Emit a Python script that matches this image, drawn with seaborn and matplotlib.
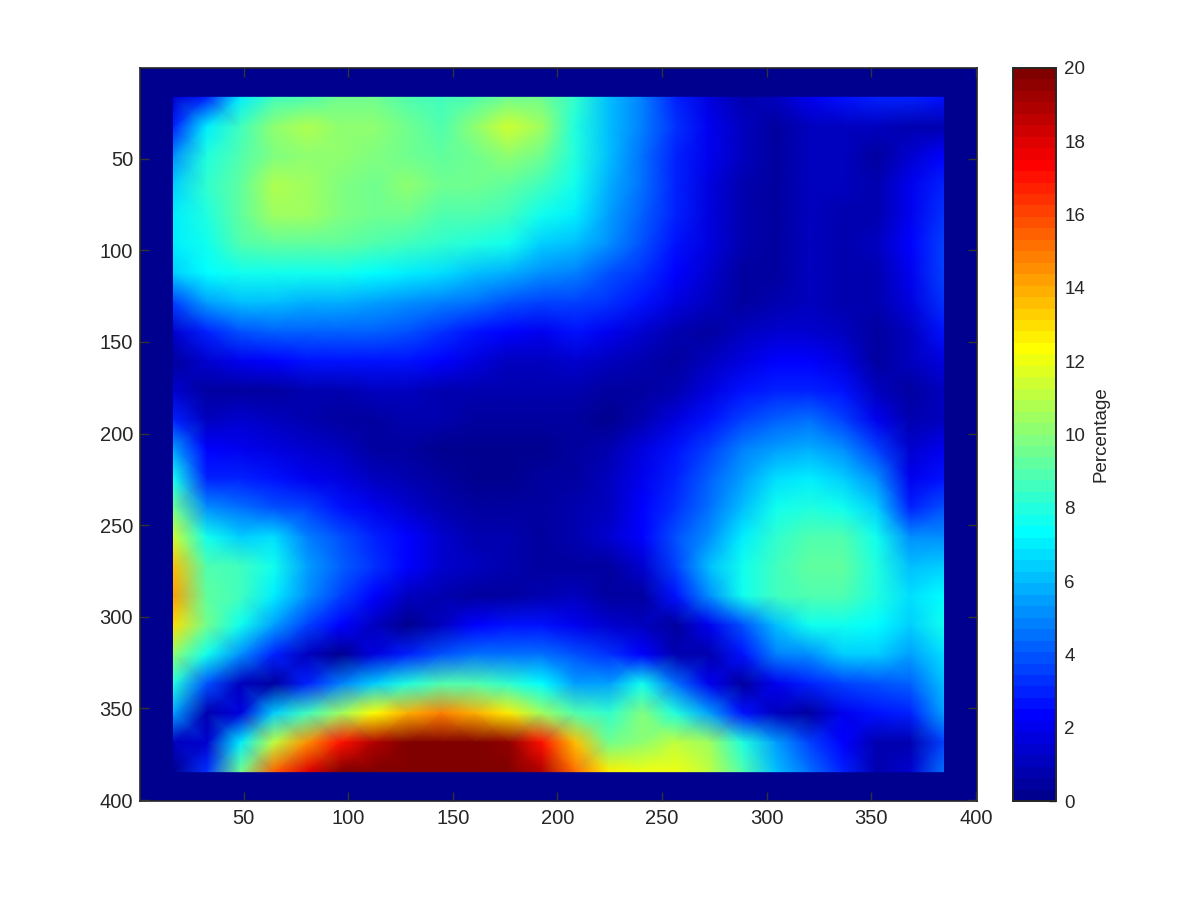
import numpy as np
import pandas as pd
import matplotlib
matplotlib.use('Agg')
import matplotlib.pyplot as plt
from matplotlib.colors import LinearSegmentedColormap
import seaborn as sns

# percentage, one list per row (y = 16, 32 ... 384)
row_016 = [1.5, 3.0, 7.0, 8.5, 9.0, 9.5, 9.5, 9.0, 8.5, 9.0, 9.5, 9.5, 8.2, 6.0, 4.7, 3.0, 1.8, 0.8, 1.2, 2.0, 2.6, 3.0, 3.0, 2.8]
row_032 = [3.0, 7.0, 8.5, 10.3, 10.8, 10.2, 10.0, 9.5, 9.0, 10.0, 11.5, 10.5, 8.0, 6.2, 4.8, 3.2, 2.0, 1.1, 0.5, 1.0, 1.2, 1.2, 0.7, 0.9]
row_048 = [5.0, 8.0, 9.0, 9.8, 10.2, 10.0, 9.8, 9.5, 9.2, 9.6, 10.0, 9.5, 8.0, 6.0, 4.6, 3.1, 2.0, 1.0, 0.5, 1.1, 1.0, 0.6, 1.5, 2.4]
row_064 = [6.5, 8.2, 9.2, 10.8, 10.5, 9.8, 9.4, 10.2, 9.6, 9.5, 9.3, 8.6, 7.5, 5.9, 4.5, 3.0, 1.8, 0.9, 0.4, 1.0, 1.0, 0.7, 2.0, 3.0]
row_080 = [7.0, 8.0, 9.2, 10.4, 10.5, 9.8, 9.4, 9.4, 9.0, 8.8, 8.5, 7.5, 7.0, 5.5, 4.3, 2.9, 1.7, 0.9, 0.4, 1.0, 0.8, 0.8, 2.0, 3.2]
row_096 = [7.0, 7.8, 8.8, 9.2, 9.3, 9.1, 8.9, 8.7, 8.3, 8.0, 7.5, 6.5, 6.0, 5.0, 3.9, 2.7, 1.6, 0.8, 0.4, 1.0, 0.7, 1.0, 2.2, 3.5]
row_112 = [6.5, 7.2, 7.7, 7.7, 7.6, 7.5, 7.3, 7.0, 6.6, 6.1, 5.7, 5.2, 4.8, 4.0, 3.2, 2.2, 1.3, 0.6, 0.5, 1.0, 0.8, 0.9, 2.0, 3.5]
row_128 = [3.5, 5.6, 6.1, 6.0, 5.8, 5.7, 5.5, 5.2, 4.8, 4.4, 4.0, 3.7, 3.5, 3.3, 2.5, 1.8, 1.0, 0.5, 0.7, 1.0, 0.8, 0.8, 1.6, 3.2]
row_144 = [1.5, 3.0, 4.0, 4.2, 4.3, 4.3, 4.2, 3.9, 3.4, 2.8, 2.3, 2.0, 2.6, 2.1, 1.5, 0.9, 0.5, 1.0, 1.4, 1.4, 1.1, 0.5, 1.2, 2.5]
row_160 = [0.6, 1.5, 2.0, 2.3, 2.6, 2.8, 2.7, 2.5, 2.3, 1.7, 1.2, 1.0, 1.5, 1.2, 0.8, 0.4, 1.0, 1.8, 2.2, 2.2, 1.8, 0.6, 1.0, 1.8]
row_176 = [1.5, 0.6, 0.5, 0.5, 0.7, 0.9, 1.0, 1.0, 0.9, 0.8, 0.7, 0.7, 0.8, 0.5, 0.5, 0.9, 1.7, 2.5, 3.0, 3.0, 2.5, 1.2, 0.6, 1.0]
row_192 = [3.0, 1.2, 1.3, 1.1, 0.8, 0.5, 0.4, 0.7, 0.8, 0.6, 0.5, 0.4, 0.4, 0.3, 0.9, 1.8, 2.7, 3.5, 4.3, 4.4, 3.6, 2.0, 0.7, 1.0]
row_208 = [5.5, 2.2, 2.0, 1.7, 1.3, 1.0, 0.6, 0.4, 0.3, 0.3, 0.3, 0.3, 0.5, 0.8, 1.6, 2.5, 3.5, 4.8, 5.6, 5.8, 5.0, 3.7, 1.4, 2.0]
row_224 = [7.5, 3.0, 3.0, 2.5, 2.1, 1.6, 1.2, 0.8, 0.5, 0.3, 0.3, 0.4, 0.6, 1.0, 2.0, 3.0, 4.1, 5.4, 6.6, 7.0, 6.5, 5.0, 2.0, 2.5]
row_240 = [9.5, 5.0, 4.5, 4.0, 3.5, 2.8, 2.0, 1.4, 0.9, 0.6, 0.5, 0.5, 0.7, 1.2, 2.3, 3.3, 4.5, 6.0, 7.5, 8.0, 7.8, 6.5, 3.0, 4.0]
row_256 = [11.5, 7.5, 6.5, 6.7, 4.8, 3.8, 3.0, 2.2, 1.3, 0.9, 0.7, 0.6, 0.8, 1.3, 2.4, 3.8, 5.3, 7.0, 8.2, 8.9, 8.8, 7.6, 5.0, 5.3]
row_272 = [13.5, 9.0, 8.5, 7.8, 5.5, 4.3, 3.2, 2.2, 1.5, 1.0, 0.8, 0.5, 0.4, 0.4, 1.5, 3.5, 6.0, 7.5, 8.5, 9.3, 9.2, 8.0, 6.0, 6.5]
row_288 = [14.2, 9.2, 8.5, 7.0, 5.0, 3.7, 2.3, 1.2, 0.9, 0.4, 0.4, 0.7, 1.0, 0.6, 0.5, 2.5, 5.0, 7.5, 8.6, 8.8, 8.8, 8.0, 6.8, 7.3]
row_304 = [13.0, 9.5, 7.5, 5.5, 3.5, 2.2, 1.2, 0.3, 1.0, 2.3, 2.6, 2.6, 1.9, 1.5, 1.0, 0.5, 2.0, 4.0, 6.0, 7.5, 7.5, 7.3, 6.5, 7.5]
row_320 = [10.0, 7.5, 5.0, 3.0, 1.0, 0.3, 1.7, 3.0, 4.0, 4.5, 4.6, 4.4, 3.8, 3.3, 2.4, 0.9, 0.8, 2.8, 4.8, 5.0, 6.3, 6.3, 5.5, 6.8]
row_336 = [8.0, 4.0, 1.2, 0.6, 3.0, 4.8, 6.3, 8.0, 9.0, 9.0, 8.3, 7.2, 5.5, 5.5, 7.5, 4.5, 2.0, 0.4, 2.0, 3.0, 3.5, 4.0, 4.2, 6.0]
row_352 = [5.5, 0.8, 1.6, 6.5, 8.5, 10.5, 12.3, 14.0, 14.8, 14.0, 12.5, 10.5, 9.0, 8.3, 9.8, 8.0, 5.5, 2.5, 1.0, 0.6, 2.0, 2.5, 3.0, 5.5]
row_368 = [1.0, 1.5, 7.0, 11.0, 14.5, 17.0, 19.0, 20.0, 20.0, 20.0, 19.5, 17.0, 13.5, 9.5, 10.0, 11.0, 10.5, 8.0, 5.5, 3.7, 2.2, 0.8, 0.8, 3.5]
row_384 = [0.3, 3.2, 9.5, 15.5, 18.0, 20.0, 20.0, 20.0, 20.0, 20.0, 20.0, 19.0, 15.0, 12.5, 12.0, 12.0, 11.0, 9.0, 6.0, 4.5, 3.0, 0.9, 1.5, 4.5]
rows = [row_016, row_032, row_048, row_064, row_080, row_096, row_112, row_128,
        row_144, row_160, row_176, row_192, row_208, row_224, row_240, row_256,
        row_272, row_288, row_304, row_320, row_336, row_352, row_368, row_384]

axis_ticks = [50, 100, 150, 200, 250, 300, 350, 400]
cbar_ticks = [0, 2, 4, 6, 8, 10, 12, 14, 16, 18, 20]

sns.set_theme(style='ticks')
plt.rcParams['font.family'] = ['Liberation Sans', 'DejaVu Sans']

# matlab flavoured jet, 64 steps
navy = (0, 0, 0.5625)
jet64 = LinearSegmentedColormap.from_list('jet64', [
    (0, navy), (7 / 63, (0, 0, 1)), (23 / 63, (0, 1, 1)),
    (39 / 63, (1, 1, 0)), (55 / 63, (1, 0, 0)), (1, (0.5, 0, 0))], N=64)

fig = plt.figure(figsize=(12, 9), dpi=100)
ax = fig.add_axes([140 / 1200, 99 / 900, 837 / 1200, 733 / 900])
cax = fig.add_axes([1013 / 1200, 99 / 900, 43 / 1200, 733 / 900])

df = pd.DataFrame(rows)
sns.heatmap(df, ax=ax, cbar_ax=cax, cmap=jet64, vmin=0, vmax=20,
            shading='gouraud', square=False, xticklabels=False, yticklabels=False,
            cbar_kws={'label': 'Percentage'})

# grid nodes sit every 16 units starting at 16.5, axis runs 0.5 to 400.5
to_node = lambda v: (np.asarray(v, dtype=float) - 16.5) / 16
ax.set_facecolor(navy)
ax.set_xlim(to_node(0.5), to_node(400.5))
ax.set_ylim(to_node(400.5), to_node(0.5))
ax.set_xticks(to_node(axis_ticks), labels=[str(t) for t in axis_ticks])
ax.set_yticks(to_node(axis_ticks), labels=[str(t) for t in axis_ticks])
ax.tick_params(direction='in', length=6.5, width=1, top=True, right=True,
               labelsize=14.5, color='.2', labelcolor='.15')
ax.tick_params(axis='x', pad=6)
ax.tick_params(axis='y', pad=5)
ax.set_axisbelow(False)
for s in ax.spines.values():
    s.set_visible(True)
    s.set_color('.15')
    s.set_linewidth(1.2)

cbar = ax.collections[0].colorbar
cbar.set_ticks(cbar_ticks)
cbar.outline.set_visible(True)
cbar.outline.set_linewidth(1.4)
cbar.outline.set_edgecolor('.15')
cax.tick_params(direction='in', length=5, width=1, labelsize=13.5, color='.2', labelcolor='.15', pad=6)
cax.set_ylabel('Percentage', fontsize=13.5, color='.15', labelpad=5.5)

fig.savefig('out.png', dpi=100)
